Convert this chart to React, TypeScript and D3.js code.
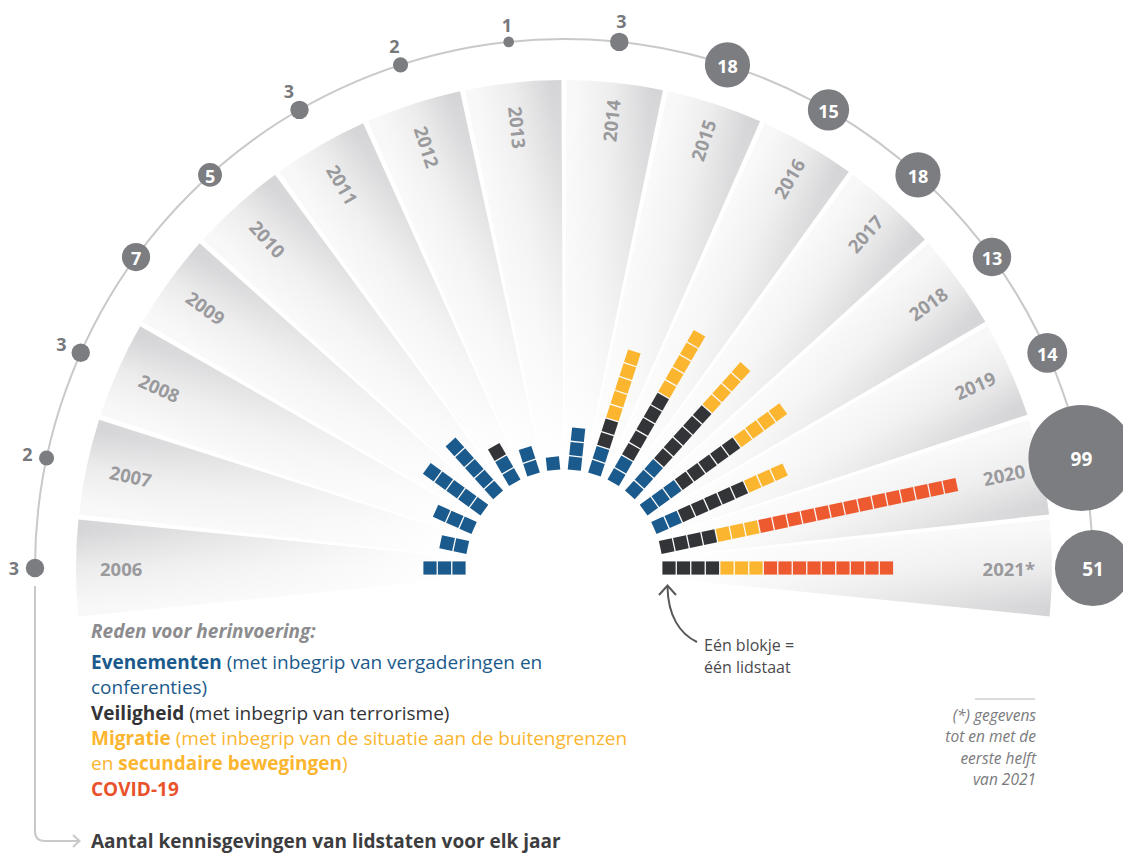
import React from 'react';
import * as d3 from 'd3';

// ---------- DATA ----------
const years = ['2006', '2007', '2008', '2009', '2010', '2011', '2012', '2013', '2014', '2015', '2016', '2017', '2018', '2019', '2020', '2021*'];
const notifications = [3, 2, 3, 7, 5, 3, 2, 1, 3, 18, 15, 18, 13, 14, 99, 51];
// member states per reason (one block = one member state), inner -> outer order
const eventsBlocks = [3, 2, 3, 5, 5, 2, 2, 1, 3, 2, 2, 3, 3, 2, 0, 0];
const securityBlocks = [0, 0, 0, 0, 0, 1, 0, 0, 0, 2, 5, 5, 5, 5, 4, 4];
const migrationBlocks = [0, 0, 0, 0, 0, 0, 0, 0, 0, 5, 5, 4, 4, 3, 3, 3];
const covidBlocks = [0, 0, 0, 0, 0, 0, 0, 0, 0, 0, 0, 0, 0, 0, 14, 9];

const reasonColors = ['#1b5a8c', '#333437', '#fbb52f', '#ee5a30'];

const footnoteLines = ['(*) gegevens', 'tot en met de', 'eerste helft', 'van 2021'];

// ---------- LAYOUT ----------
const W = 1123;
const H = 853;
const cx = 564;
const cy = 568;
const R = 529; // circle track radius
const WEDGE_IN = 92;
const WEDGE_OUT = 488;
const HALF = 5.7; // half wedge width in degrees
const FONT = "'Open Sans', 'Noto Sans', 'DejaVu Sans', sans-serif";

const angleScale = d3.scalePoint<string>().domain(years).range([180, 0]);
const circleScale = d3.scaleSqrt().domain([0, 99]).range([0, 53]);
const blockScale = d3.scaleLinear().domain([0, 1]).range([105, 119.5]);

const rad = (deg: number) => (deg * Math.PI) / 180;
const toXY = (deg: number, r: number): [number, number] => [
  cx + r * Math.cos(rad(deg)),
  cy - r * Math.sin(rad(deg)),
];
const toRel = (deg: number, r: number): [number, number] => [
  r * Math.cos(rad(deg)),
  -r * Math.sin(rad(deg)),
];

const arcGen = d3.arc<any>();

export default function App() {
  const blockSeries = [eventsBlocks, securityBlocks, migrationBlocks, covidBlocks];

  const yearData = years.map((y, i) => {
    const theta = angleScale(y) as number;
    const blocks: { color: string; k: number }[] = [];
    let k = 0;
    blockSeries.forEach((s, si) => {
      for (let j = 0; j < s[i]; j++) {
        blocks.push({ color: reasonColors[si], k });
        k++;
      }
    });
    return { y, i, theta, count: notifications[i], blocks };
  });

  return (
    <svg
      width={W}
      height={H}
      viewBox={`0 0 ${W} ${H}`}
      style={{ position: 'absolute', left: 0, top: 0, background: '#fff' }}
    >
      <defs>
        {yearData.map((d) => {
          const [x1, y1] = toRel(d.theta + HALF, 380);
          const [x2, y2] = toRel(d.theta - HALF, 380);
          return (
            <linearGradient
              key={d.y}
              id={`wg${d.i}`}
              gradientUnits="userSpaceOnUse"
              x1={x1}
              y1={y1}
              x2={x2}
              y2={y2}
            >
              <stop offset="0" stopColor="#f8f8f8" />
              <stop offset="0.5" stopColor="#ececed" />
              <stop offset="1" stopColor="#d5d5d7" />
            </linearGradient>
          );
        })}
        <radialGradient id="fade" gradientUnits="userSpaceOnUse" cx={0} cy={0} r={WEDGE_OUT}>
          <stop offset="0" stopColor="#fff" stopOpacity={1} />
          <stop offset="0.22" stopColor="#fff" stopOpacity={1} />
          <stop offset="0.6" stopColor="#fff" stopOpacity={0.5} />
          <stop offset="1" stopColor="#fff" stopOpacity={0} />
        </radialGradient>
      </defs>

      {/* wedges */}
      <g transform={`translate(${cx},${cy})`}>
        {yearData.map((d) => {
          const a = rad(90 - d.theta);
          const p = arcGen({
            innerRadius: WEDGE_IN,
            outerRadius: WEDGE_OUT,
            startAngle: a - rad(HALF),
            endAngle: a + rad(HALF),
          }) as string;
          return <path key={d.y} d={p} fill={`url(#wg${d.i})`} />;
        })}
        {yearData.map((d) => {
          const a = rad(90 - d.theta);
          const p = arcGen({
            innerRadius: WEDGE_IN - 2,
            outerRadius: WEDGE_OUT + 1,
            startAngle: a - rad(HALF) - 0.01,
            endAngle: a + rad(HALF) + 0.01,
          }) as string;
          return <path key={`f${d.y}`} d={p} fill="url(#fade)" />;
        })}
      </g>

      {/* year labels */}
      {yearData.map((d) => {
        const left = d.theta > 90;
        const [x, y] = toXY(d.theta, left ? 464 : 471);
        const rot = left ? 180 - d.theta : -d.theta;
        return (
          <text
            key={d.y}
            x={x}
            y={y}
            transform={`rotate(${rot},${x},${y})`}
            textAnchor={left ? 'start' : 'end'}
            dominantBaseline="central"
            fontFamily={FONT}
            fontWeight={700}
            fontSize={18.5}
            fill="#9a9a9d"
          >
            {d.y}
          </text>
        );
      })}

      {/* blocks */}
      {yearData.map((d) =>
        d.blocks.map((b) => {
          const [x, y] = toXY(d.theta, blockScale(b.k));
          return (
            <rect
              key={`${d.y}-${b.k}`}
              x={-6.6}
              y={-6.6}
              width={13.2}
              height={13.2}
              fill={b.color}
              transform={`translate(${x},${y}) rotate(${-d.theta})`}
            />
          );
        })
      )}

      {/* track arc */}
      <path
        d={`M${cx - R},${cy} A${R},${R} 0 0 1 ${cx + R},${cy}`}
        fill="none"
        stroke="#c9c9cb"
        strokeWidth={2}
      />
      {/* connector to bottom caption */}
      <path
        d={`M${cx - R},${cy + 18} V831 Q${cx - R},841 ${cx - R + 10},841 H79`}
        fill="none"
        stroke="#c9c9cb"
        strokeWidth={2}
      />
      <path d="M73,835 L79.5,841 L73,847" fill="none" stroke="#c9c9cb" strokeWidth={2} />

      {/* notification circles */}
      {yearData.map((d) => {
        const r = circleScale(d.count);
        const [x, y] = toXY(d.theta, R);
        const inside = d.count >= 5;
        const [lx, ly] = toXY(d.theta, R + r + 12);
        return (
          <g key={d.y}>
            <circle cx={x} cy={y} r={r} fill="#7c7d81" />
            {inside ? (
              <text
                x={x}
                y={y + 1}
                textAnchor="middle"
                dominantBaseline="central"
                fontFamily={FONT}
                fontWeight={700}
                fontSize={d.count > 50 ? 19 : 18}
                fill="#fff"
              >
                {d.count}
              </text>
            ) : (
              <text
                x={lx}
                y={ly}
                textAnchor="middle"
                dominantBaseline="central"
                fontFamily={FONT}
                fontWeight={700}
                fontSize={18}
                fill="#77787c"
              >
                {d.count}
              </text>
            )}
          </g>
        );
      })}

      {/* legend */}
      <g fontFamily={FONT} fontSize={19}>
        <text x={91} y={638} fontWeight={700} fontStyle="italic" fill="#8c8c8f">
          Reden voor herinvoering:
        </text>
        <text x={91} y={669} fill="#1b5a8c">
          <tspan fontWeight={700}>Evenementen</tspan>
          <tspan>{' (met inbegrip van vergaderingen en'}</tspan>
        </text>
        <text x={91} y={694} fill="#1b5a8c">
          conferenties)
        </text>
        <text x={91} y={720} fill="#333437">
          <tspan fontWeight={700}>Veiligheid</tspan>
          <tspan>{' (met inbegrip van terrorisme)'}</tspan>
        </text>
        <text x={91} y={745} fill="#fbb52f">
          <tspan fontWeight={700}>Migratie</tspan>
          <tspan>{' (met inbegrip van de situatie aan de buitengrenzen'}</tspan>
        </text>
        <text x={91} y={770} fill="#fbb52f">
          <tspan>{'en '}</tspan>
          <tspan fontWeight={700}>secundaire bewegingen</tspan>
          <tspan>)</tspan>
        </text>
        <text x={91} y={796} fill="#e9532b" fontWeight={700}>
          COVID-19
        </text>
        <text x={91} y={848} fill="#3d3d40" fontWeight={700}>
          Aantal kennisgevingen van lidstaten voor elk jaar
        </text>
      </g>

      {/* block note */}
      <path d="M697,642 C680,634 668,616 667.5,587" fill="none" stroke="#58585b" strokeWidth={2} />
      <path d="M659,595 L667.5,585.5 L676,595" fill="none" stroke="#58585b" strokeWidth={2} />
      <g fontFamily={FONT} fontSize={16} fill="#4a4a4d">
        <text x={704} y={651}>Eén blokje =</text>
        <text x={704} y={673}>één lidstaat</text>
      </g>

      {/* footnote */}
      <line x1={975} y1={699} x2={1035} y2={699} stroke="#cfcfd1" strokeWidth={1.5} />
      <g fontFamily={FONT} fontSize={15.5} fontStyle="italic" fill="#7a7a7d" textAnchor="end">
        {footnoteLines.map((t, i) => (
          <text key={t} x={1036} y={721 + i * 21.3}>
            {t}
          </text>
        ))}
      </g>
    </svg>
  );
}
